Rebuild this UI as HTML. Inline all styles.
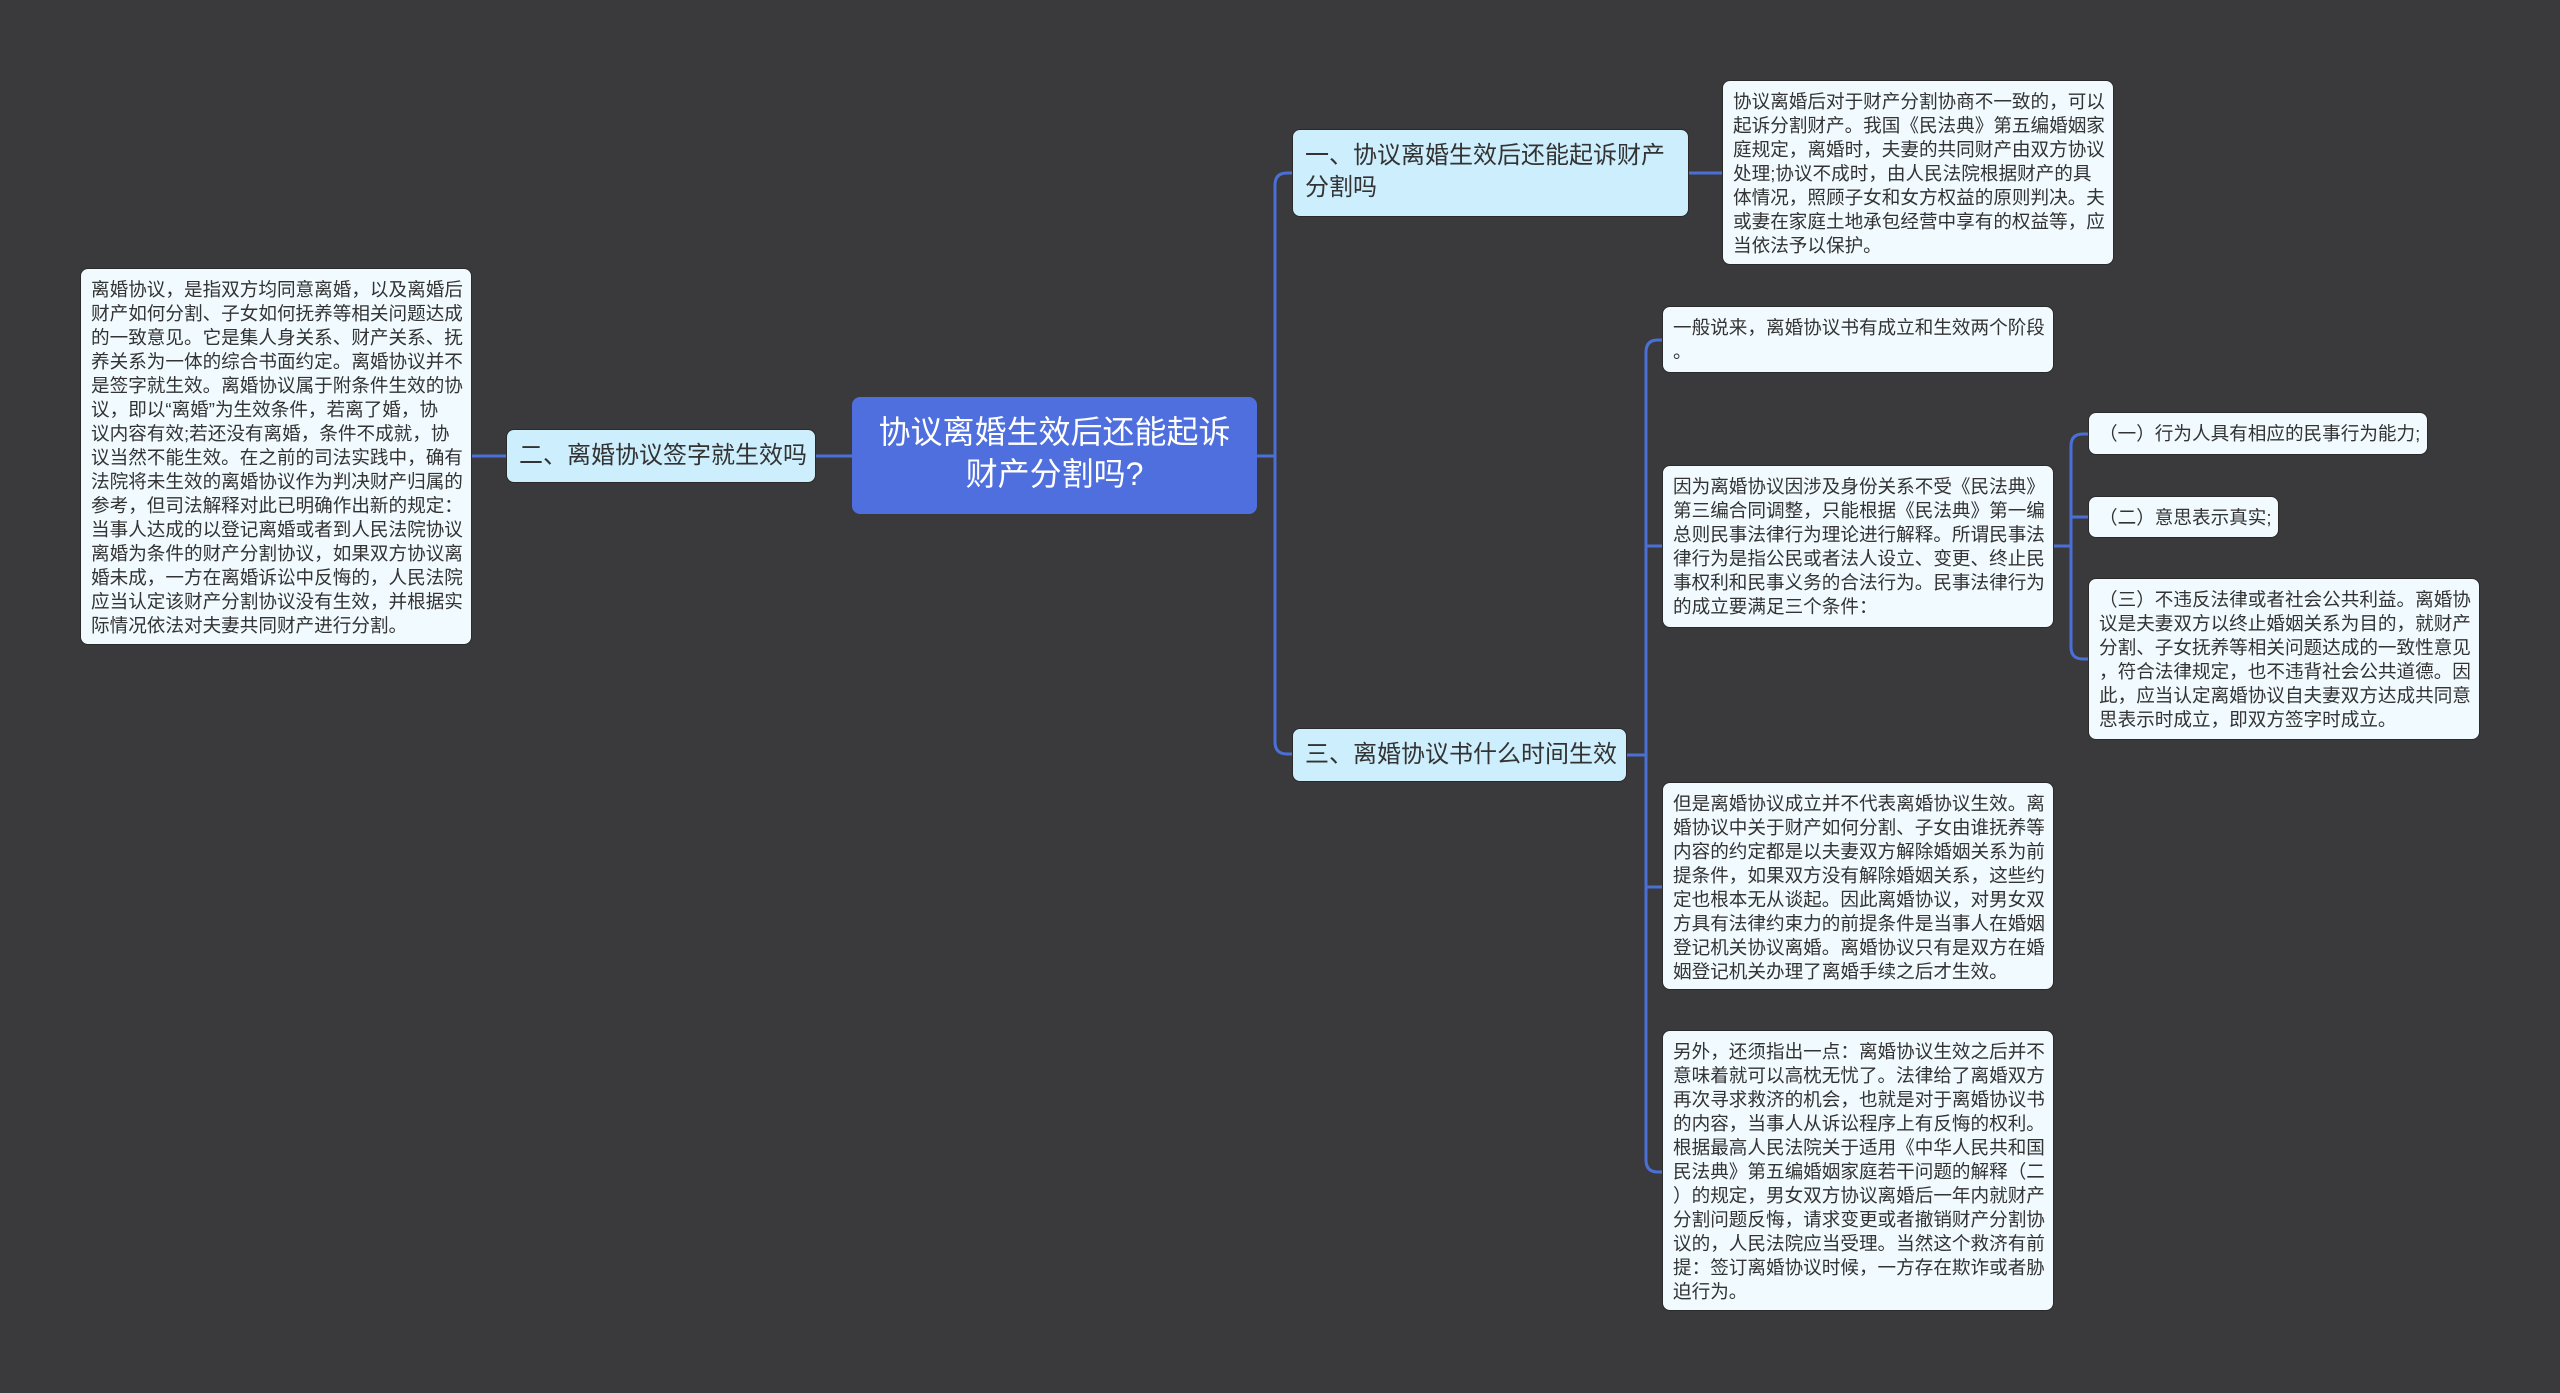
<!DOCTYPE html>
<html><head><meta charset="utf-8"><style>
html,body{margin:0;padding:0}
body{width:2560px;height:1393px;background:#3a393b;position:relative;overflow:hidden;font-family:"Liberation Sans","Noto Sans CJK SC",sans-serif}
.b{position:absolute;box-sizing:border-box;border-radius:8px;color:#333;white-space:nowrap}
.t{background:#f0faff;font-size:18.6px;line-height:24px;padding:9px 10px;border:1px solid #2a2a2a}
.n{background:#cdeefc;font-size:24px;line-height:32px;padding:10px 12px;border:1px solid #2a2a2a}
.r{background:#4f6fdf;color:#fff;font-size:32px;line-height:42px;text-align:center;padding:14px 10px}
svg{position:absolute;left:0;top:0}
</style></head><body>
<svg width="2560" height="1393" fill="none" stroke="#4a6fd6" stroke-width="3">
<path d="M472 456 H506"/>
<path d="M816 456 H852"/>
<path d="M1257 456 H1275"/>
<path d="M1292 173 H1287 Q1275 173 1275 185 V742 Q1275 754 1287 754 H1292"/>
<path d="M1689 173 H1722"/>
<path d="M1627 755 H1645"/>
<path d="M1662 340 H1658 Q1646 340 1646 352 V1160 Q1646 1172 1658 1172 H1662"/>
<path d="M1646 546 H1662"/>
<path d="M1646 887 H1662"/>
<path d="M2054 546 H2071"/>
<path d="M2088 434 H2083 Q2071 434 2071 446 V647 Q2071 659 2083 659 H2088"/>
<path d="M2071 517 H2088"/>
</svg>

<div class="b t" style="left:80px;top:268px;width:392px;height:377px">离婚协议，是指双方均同意离婚，以及离婚后<br>财产如何分割、子女如何抚养等相关问题达成<br>的一致意见。它是集人身关系、财产关系、抚<br>养关系为一体的综合书面约定。离婚协议并不<br>是签字就生效。离婚协议属于附条件生效的协<br>议，即以“离婚”为生效条件，若离了婚，协<br>议内容有效;若还没有离婚，条件不成就，协<br>议当然不能生效。在之前的司法实践中，确有<br>法院将未生效的离婚协议作为判决财产归属的<br>参考，但司法解释对此已明确作出新的规定：<br>当事人达成的以登记离婚或者到人民法院协议<br>离婚为条件的财产分割协议，如果双方协议离<br>婚未成，一方在离婚诉讼中反悔的，人民法院<br>应当认定该财产分割协议没有生效，并根据实<br>际情况依法对夫妻共同财产进行分割。</div>

<div class="b n" style="left:506px;top:429px;width:310px;height:54px;padding-top:10px">二、离婚协议签字就生效吗</div>

<div class="b r" style="left:852px;top:397px;width:405px;height:117px">协议离婚生效后还能起诉<br>财产分割吗?</div>

<div class="b n" style="left:1292px;top:129px;width:397px;height:88px">一、协议离婚生效后还能起诉财产<br>分割吗</div>

<div class="b t" style="left:1722px;top:80px;width:392px;height:185px">协议离婚后对于财产分割协商不一致的，可以<br>起诉分割财产。我国《民法典》第五编婚姻家<br>庭规定，离婚时，夫妻的共同财产由双方协议<br>处理;协议不成时，由人民法院根据财产的具<br>体情况，照顾子女和女方权益的原则判决。夫<br>或妻在家庭土地承包经营中享有的权益等，应<br>当依法予以保护。</div>

<div class="b n" style="left:1292px;top:728px;width:335px;height:54px">三、离婚协议书什么时间生效</div>

<div class="b t" style="left:1662px;top:306px;width:392px;height:67px">一般说来，离婚协议书有成立和生效两个阶段<br>。</div>

<div class="b t" style="left:1662px;top:465px;width:392px;height:163px">因为离婚协议因涉及身份关系不受《民法典》<br>第三编合同调整，只能根据《民法典》第一编<br>总则民事法律行为理论进行解释。所谓民事法<br>律行为是指公民或者法人设立、变更、终止民<br>事权利和民事义务的合法行为。民事法律行为<br>的成立要满足三个条件：</div>

<div class="b t" style="left:2088px;top:412px;width:340px;height:43px">（一）行为人具有相应的民事行为能力;</div>
<div class="b t" style="left:2088px;top:496px;width:191px;height:42px">（二）意思表示真实;</div>
<div class="b t" style="left:2088px;top:578px;width:392px;height:162px">（三）不违反法律或者社会公共利益。离婚协<br>议是夫妻双方以终止婚姻关系为目的，就财产<br>分割、子女抚养等相关问题达成的一致性意见<br>，符合法律规定，也不违背社会公共道德。因<br>此，应当认定离婚协议自夫妻双方达成共同意<br>思表示时成立，即双方签字时成立。</div>

<div class="b t" style="left:1662px;top:782px;width:392px;height:208px">但是离婚协议成立并不代表离婚协议生效。离<br>婚协议中关于财产如何分割、子女由谁抚养等<br>内容的约定都是以夫妻双方解除婚姻关系为前<br>提条件，如果双方没有解除婚姻关系，这些约<br>定也根本无从谈起。因此离婚协议，对男女双<br>方具有法律约束力的前提条件是当事人在婚姻<br>登记机关协议离婚。离婚协议只有是双方在婚<br>姻登记机关办理了离婚手续之后才生效。</div>

<div class="b t" style="left:1662px;top:1030px;width:392px;height:281px">另外，还须指出一点：离婚协议生效之后并不<br>意味着就可以高枕无忧了。法律给了离婚双方<br>再次寻求救济的机会，也就是对于离婚协议书<br>的内容，当事人从诉讼程序上有反悔的权利。<br>根据最高人民法院关于适用《中华人民共和国<br>民法典》第五编婚姻家庭若干问题的解释（二<br>）的规定，男女双方协议离婚后一年内就财产<br>分割问题反悔，请求变更或者撤销财产分割协<br>议的，人民法院应当受理。当然这个救济有前<br>提：签订离婚协议时候，一方存在欺诈或者胁<br>迫行为。</div>
</body></html>
